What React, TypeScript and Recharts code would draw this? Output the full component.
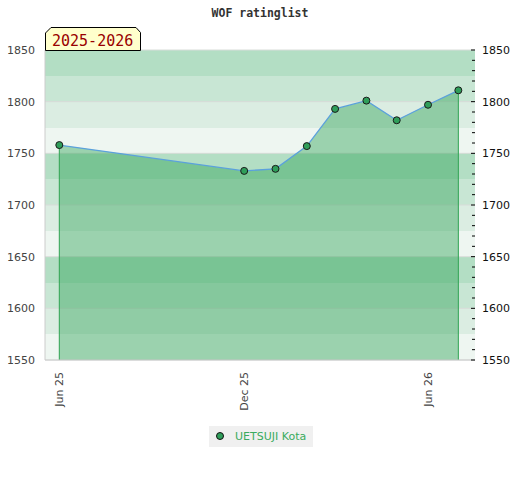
import {
  ComposedChart,
  Area,
  Line,
  XAxis,
  YAxis,
  CartesianGrid,
  ReferenceLine,
} from "recharts";

// monthly rating list dates and the player's rating on each
const listDates = [
  "2025-06-01",
  "2025-12-01",
  "2026-01-01",
  "2026-02-01",
  "2026-03-01",
  "2026-04-01",
  "2026-05-01",
  "2026-06-01",
  "2026-07-01",
];
const ratings = [1758, 1733, 1735, 1757, 1793, 1801, 1782, 1797, 1811];

const xTickDates = ["2025-06-01", "2025-12-01", "2026-06-01"];
const xTickLabels = ["Jun 25", "Dec 25", "Jun 26"];
const xDomainDates = ["2025-05-17T20:00:00Z", "2026-07-17T12:00:00Z"];

const yMin = 1550;
const yMax = 1850;
const majorTicks = [1550, 1600, 1650, 1700, 1750, 1800, 1850];
const minorTicks = [
  1550, 1560, 1570, 1580, 1590, 1600, 1610, 1620, 1630, 1640, 1650, 1660,
  1670, 1680, 1690, 1700, 1710, 1720, 1730, 1740, 1750, 1760, 1770, 1780,
  1790, 1800, 1810, 1820, 1830, 1840, 1850,
];
const bandEdges = [
  1850, 1825, 1800, 1775, 1750, 1725, 1700, 1675, 1650, 1625, 1600, 1575, 1550,
];
const bandColors = ["#b3dec4", "#c8e6d4", "#dbede2", "#eef6f1"];

const seriesName = "UETSUJI Kota";
const seasonLabel = "2025-2026";
const title = "WOF ratinglist";

const toTime = (d: string) => new Date(d).getTime();

const data = listDates.map((d, i) => ({ t: toTime(d), rating: ratings[i] }));
const first = data[0];
const last = data[data.length - 1];

const FONT = "'DejaVu Sans', sans-serif";
const MONO = "'DejaVu Sans Mono', monospace";

function XTick(props: any) {
  const { x, y, payload } = props;
  const idx = xTickDates.findIndex((d) => toTime(d) === payload.value);
  return (
    <g transform={`translate(${x},${y + 12}) rotate(-90)`}>
      <text
        textAnchor="end"
        dy="0.35em"
        fontSize={11}
        fontFamily={FONT}
        fill="#444"
      >
        {idx >= 0 ? xTickLabels[idx] : ""}
      </text>
    </g>
  );
}

function RightTick(props: any) {
  const { x, y, payload } = props;
  const major = payload.value % 50 === 0;
  return (
    <g>
      <line
        x1={x - (major ? 4 : 3)}
        x2={x}
        y1={y}
        y2={y}
        stroke="#000"
        strokeWidth={1}
      />
      {major && (
        <text
          x={x + 7}
          y={y}
          dy="0.355em"
          textAnchor="start"
          fontSize={11}
          fontFamily={FONT}
          fill="#111"
        >
          {payload.value}
        </text>
      )}
    </g>
  );
}

export default function App() {
  return (
    <div style={{ position: "absolute", left: 0, top: 0, width: 520, height: 480 }}>
      <ComposedChart
        width={520}
        height={480}
        data={data}
        margin={{ top: 50, right: 0, bottom: 0, left: 0 }}
      >
        <CartesianGrid
          yAxisId="l"
          vertical={false}
          horizontalValues={bandEdges}
          horizontalFill={bandColors}
          fillOpacity={1}
          stroke="none"
        />
        <CartesianGrid
          yAxisId="l"
          vertical={false}
          horizontalValues={majorTicks}
          stroke="#d8dcd9"
          strokeWidth={1}
        />
        <XAxis
          dataKey="t"
          type="number"
          scale="time"
          domain={[toTime(xDomainDates[0]), toTime(xDomainDates[1])]}
          ticks={xTickDates.map(toTime)}
          tick={<XTick />}
          tickLine={false}
          tickSize={0}
          tickMargin={0}
          height={120}
          axisLine={{ stroke: "#cccccc" }}
          allowDataOverflow
        />
        <YAxis
          yAxisId="l"
          orientation="left"
          width={45}
          domain={[yMin, yMax]}
          ticks={majorTicks}
          tickLine={false}
          tickSize={0}
          tickMargin={10}
          tick={{ fontSize: 11, fontFamily: FONT, fill: "#444" }}
          axisLine={{ stroke: "#cccccc" }}
          allowDataOverflow
        />
        <YAxis
          yAxisId="r"
          orientation="right"
          width={45}
          domain={[yMin, yMax]}
          ticks={minorTicks}
          interval={0}
          tickLine={false}
          tickSize={0}
          tickMargin={0}
          tick={<RightTick />}
          axisLine={false}
          allowDataOverflow
        />
        <Area
          yAxisId="l"
          dataKey="rating"
          type="linear"
          baseValue={yMin}
          fill="rgb(40,160,80)"
          fillOpacity={0.42}
          stroke="none"
          dot={false}
          activeDot={false}
          isAnimationActive={false}
        />
        <ReferenceLine
          yAxisId="l"
          segment={[
            { x: first.t, y: first.rating },
            { x: first.t, y: yMin },
          ]}
          stroke="#2fa352"
          strokeWidth={1}
        />
        <ReferenceLine
          yAxisId="l"
          segment={[
            { x: last.t, y: last.rating },
            { x: last.t, y: yMin },
          ]}
          stroke="#2fa352"
          strokeWidth={1}
        />
        <Line
          yAxisId="l"
          dataKey="rating"
          type="linear"
          stroke="#5ba1dc"
          strokeWidth={1.3}
          dot={{ r: 3.5, fill: "#2f9e5a", stroke: "#1a1a1a", strokeWidth: 1 }}
          activeDot={false}
          isAnimationActive={false}
        />
      </ComposedChart>
      <svg
        width={520}
        height={480}
        style={{ position: "absolute", left: 0, top: 0, pointerEvents: "none" }}
      >
        <text
          x={260}
          y={16.5}
          textAnchor="middle"
          fontSize={11.5}
          fontWeight="bold"
          fontFamily={MONO}
          fill="#333"
        >
          {title}
        </text>
        <polygon
          points="45.5,50.5 45.5,33 51,27.5 136,27.5 140.5,32.5 140.5,50.5"
          fill="#ffffcc"
          stroke="#000"
          strokeWidth={1}
        />
        <text x={52} y={45.5} fontSize={15} fontFamily={MONO} fill="#990000">
          {seasonLabel}
        </text>
        <rect x={209} y={426} width={104} height={21} fill="#f0f0f0" />
        <circle cx={220} cy={436} r={3.5} fill="#2f9e5a" stroke="#111" strokeWidth={1} />
        <text x={235} y={440} fontSize={11} fontFamily={FONT} fill="#3aab5e">
          {seriesName}
        </text>
      </svg>
    </div>
  );
}
